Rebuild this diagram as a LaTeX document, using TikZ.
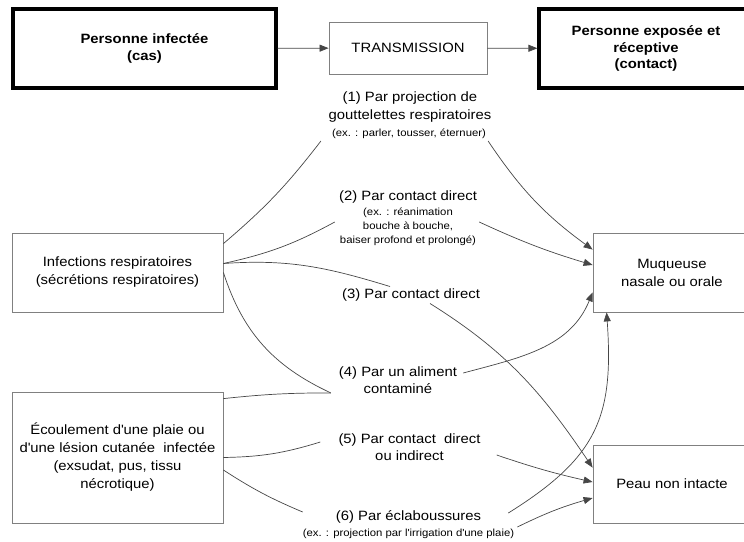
\documentclass[tikz,border=0pt]{standalone}
\usepackage{fontspec}
\setmainfont[FakeStretch=1.1]{Liberation Sans}
\usetikzlibrary{arrows.meta}
\definecolor{grisbord}{RGB}{128,128,128}
\definecolor{grislien}{RGB}{70,70,70}
\tikzset{
  cadre/.style={draw=grisbord, line width=.8pt, align=center, inner sep=0pt,
    font=\fontsize{13.5}{18}\selectfont},
  grandcadre/.style={draw=black, line width=3.2pt, align=center, inner sep=0pt,
    font=\bfseries\fontsize{13.5}{16.5}\selectfont},
  voie/.style={align=center, inner sep=2pt, font=\fontsize{13.5}{17.5}\selectfont},
  exemple/.style={align=center, inner sep=2pt, font=\fontsize{10.3}{14}\selectfont},
  trait/.style={draw=grislien, line width=.7pt},
  fleche/.style={trait, -{Triangle[length=9pt,width=7pt]}},
}
\begin{document}
\begin{tikzpicture}[x=1pt,y=1pt]
\useasboundingbox (0,0) rectangle (744,-541);
\clip (0,0) rectangle (744,-541);

% chaine du haut
\node[grandcadre, minimum width=263pt, minimum height=79pt] (cas) at (144.5,-48.5) {Personne infectée\\(cas)};
\node[cadre, minimum width=158pt, minimum height=52pt] (trans) at (408,-48) {TRANSMISSION};
\node[grandcadre, minimum width=214pt, minimum height=79pt] (contact) at (646,-48.5) {Personne exposée et\\réceptive\\(contact)};
\draw[fleche] (cas) -- (trans);
\draw[fleche] (trans) -- (contact);

% sources et cibles
\node[cadre, minimum width=211pt, minimum height=79pt] (resp) at (117.5,-272.5) {Infections respiratoires\\(sécrétions respiratoires)};
\node[cadre, minimum width=211pt, minimum height=131pt] (plaie) at (117.5,-457.5) {Écoulement d\textquotesingle une plaie ou\\d\textquotesingle une lésion cutanée\ \ infectée\\(exsudat, pus, tissu\\nécrotique)};
\node[cadre, minimum width=158pt, minimum height=79pt] (muq) at (672,-272.5) {Muqueuse\\nasale ou orale};
\node[cadre, minimum width=158pt, minimum height=78pt] (peau) at (672,-484) {Peau non intacte};

% voies de transmission
\node[voie] (v1) at (410,-107) {(1) Par projection de\\gouttelettes respiratoires};
\node[exemple] (v1ex) at (409,-134) {(ex. : parler, tousser, éternuer)};
\node[voie] (v2) at (408,-197) {(2) Par contact direct};
\node[exemple] (v2ex) at (408,-227) {(ex. : réanimation\\bouche à bouche,\\baiser profond et prolongé)};
\node[voie] (v3) at (411,-295) {(3) Par contact direct};
\node[voie] (v4) at (398,-380) {(4) Par un aliment\\contaminé};
\node[voie] (v5) at (409.5,-447) {(5) Par contact\ \ direct\\ou indirect};
\node[voie] (v6) at (408.5,-517) {(6) Par éclaboussures};
\node[exemple] (v6ex) at (408.5,-534) {(ex. : projection par l\textquotesingle irrigation d\textquotesingle une plaie)};

% (1)
\draw[trait] ([yshift=-11pt]resp.north east) to[bend right=6] ([xshift=-9pt]v1ex.south west);
\draw[fleche] (v1ex.south east) to[bend right=10] ([yshift=-17pt]muq.north west);
% (2)
\draw[trait] ([yshift=9pt]resp.east) to[bend right=8] ([xshift=-3pt,yshift=5pt]v2ex.west);
\draw[fleche] ([xshift=1pt,yshift=5pt]v2ex.east) to[bend right=4] ([yshift=7.5pt]muq.west);
% (3)
\draw[trait] ([yshift=9pt]resp.east) to[out=4,in=163] ([xshift=-21pt]v3.north);
\draw[fleche] ([xshift=19pt]v3.south) to[out=-32,in=124] ([yshift=-23pt]peau.north west);
% (4)
\draw[trait] (resp.east) to[out=-72,in=155] ([xshift=-6pt,yshift=3pt]v4.south west);
\draw[trait] ([yshift=-7pt]plaie.north east) to[bend left=3] ([xshift=-6pt,yshift=3pt]v4.south west);
\draw[fleche] ([xshift=4pt,yshift=7pt]v4.east) to[out=15,in=-112] ([yshift=20pt]muq.south west);
% (5)
\draw[trait] (plaie.east) to[bend right=8] ([xshift=-16pt,yshift=5pt]v5.west);
\draw[fleche] ([xshift=14pt,yshift=-8pt]v5.east) to[bend right=3] ([yshift=2pt]peau.west);
% (6)
\draw[trait] ([yshift=-12.5pt]plaie.east) to[bend right=5] ([xshift=-31pt,yshift=5pt]v6.west);
\draw[fleche] ([xshift=25pt,yshift=4pt]v6.east) to[out=32,in=-86,looseness=1.2] ([xshift=14pt]muq.south west);
\draw[fleche] ([xshift=1pt,yshift=7pt]v6ex.east) to[bend left=5] ([yshift=-14pt]peau.west);

\end{tikzpicture}
\end{document}
